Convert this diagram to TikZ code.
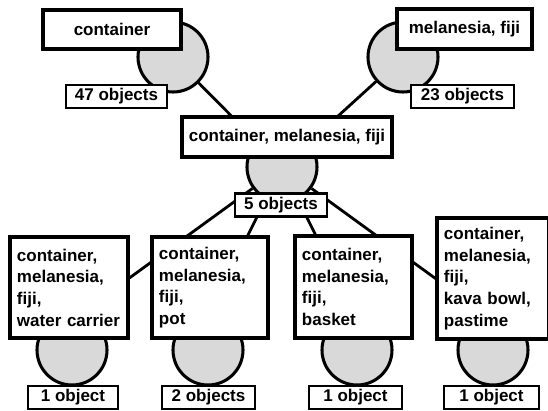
\documentclass[tikz,border=0pt]{standalone}
\usepackage{fontspec}
\setmainfont{Liberation Sans}
\usetikzlibrary{backgrounds}

\newcommand{\qfont}{\fontsize{14.5}{18.5}\selectfont\bfseries}

\tikzset{
  hit/.style={circle, draw, line width=2.6pt, fill=gray!30, minimum size=2.1cm, inner sep=0pt},
  query/.style={rectangle, draw, line width=2.6pt, fill=white, minimum height=1.2cm, font=\qfont},
  result/.style={query, align=left, inner xsep=0.21cm},
  count/.style={rectangle, draw, line width=1.8pt, fill=white, minimum height=0.69cm, inner sep=0pt, font=\qfont},
  link/.style={line width=2.4pt}
}

\begin{document}
\begin{tikzpicture}[x=0.03cm, y=-0.03cm]
  \useasboundingbox (0,0) rectangle (548,411);

  % two single facets
  \node[hit] (1) at (173,57) {};
  \node[query, minimum width=4.14cm, minimum height=1.17cm] (1q) at (112,29.5) {container};
  \node[count, minimum width=3.03cm] (1n) at (116.5,96.5) {47 objects};

  \node[hit] (2) at (403,57) {};
  \node[query, minimum width=4.05cm] (2q) at (464.5,29) {melanesia, fiji};
  \node[count, minimum width=3.09cm] (2n) at (462.5,96.5) {23 objects};

  % their intersection
  \node[hit] (3) at (282,167) {};
  \node[query, minimum width=6.3cm] (3q) at (287,137) {container, melanesia, fiji};
  \node[count, minimum width=2.76cm] (3n) at (281,205) {5 objects};

  % refinements
  \node[hit] (4) at (72,350) {};
  \node[result, text width=3.12cm, minimum height=3.03cm] (4q) at (69,287.5)
    {container,\\ melanesia,\\ fiji,\\ water carrier};
  \node[count, minimum width=2.7cm] (4n) at (73,397.5) {1 object};

  \node[hit] (5) at (208,350) {};
  \node[result, text width=3.06cm, minimum height=3.03cm] (5q) at (210,287.5)
    {container,\\ melanesia,\\ fiji,\\ pot};
  \node[count, minimum width=2.79cm] (5n) at (208.5,397.5) {2 objects};

  \node[hit] (6) at (357,350) {};
  \node[result, text width=3.09cm, minimum height=3.06cm] (6q) at (353.5,287)
    {container,\\ melanesia,\\ fiji,\\ basket};
  \node[count, minimum width=2.79cm] (6n) at (355.5,397.5) {1 object};

  \node[hit] (7) at (493,350) {};
  \node[result, text width=2.94cm, minimum height=3.63cm] (7q) at (493,278.5)
    {container,\\ melanesia,\\ fiji,\\ kava bowl,\\ pastime};
  \node[count, minimum width=2.85cm] (7n) at (491.5,397.5) {1 object};

  \begin{pgfonlayer}{background}
    \draw[link] (1) -- (3);
    \draw[link] (2) -- (3);
    \draw[link] (3) -- (4q.9);
    \draw[link] (3) -- (5q.54);
    \draw[link] (3) -- (6q.126);
    \draw[link] (3) -- (7q.west);
  \end{pgfonlayer}
\end{tikzpicture}
\end{document}
